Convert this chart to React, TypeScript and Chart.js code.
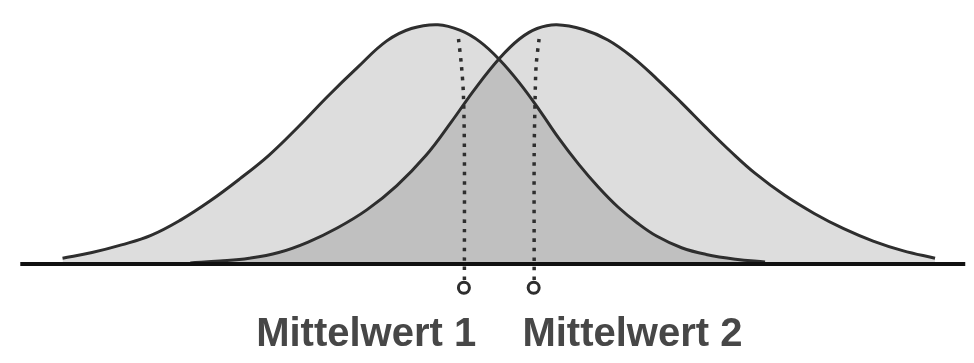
import React, { useEffect, useRef } from "react";
import { Chart, registerables } from "chart.js";

Chart.register(...registerables);

// Curve 1 (left distribution): x positions and heights above the baseline
const curve1X = [55, 85, 115, 145, 175, 205, 235, 265, 295, 325, 355, 385, 410, 437, 460, 480, 500, 520, 540, 560, 580, 600, 620, 640, 660, 685, 710, 740, 770];
const curve1Y = [6, 12, 20, 30, 46, 66, 89, 114, 144, 176, 206, 234, 247, 251, 245, 233, 214, 190, 162, 132, 105, 81, 60, 43, 29, 17, 10, 5, 2];

// Curve 2 (right distribution)
const curve2X = [185, 215, 245, 275, 305, 335, 365, 395, 425, 450, 475, 500, 520, 538, 558, 585, 610, 635, 660, 685, 710, 735, 760, 790, 820, 850, 880, 910, 943];
const curve2Y = [1, 3, 6, 12, 23, 38, 57, 82, 114, 148, 184, 216, 236, 247, 251, 246, 235, 217, 194, 169, 143, 118, 95, 72, 53, 37, 24, 14, 6];

// Mean markers: dotted guide lines (x, height) from top to below the baseline
const mean1LineX = [458, 461, 463, 464, 464, 464];
const mean1LineY = [236, 208, 178, 118, 0, -20];
const mean2LineX = [540, 537, 536, 535, 535, 535];
const mean2LineY = [236, 208, 175, 115, 0, -20];

// Marker circles below the axis
const markerX = [463.5, 534.5];
const markerY = [-25, -25];

// Axis line
const axisX = [12, 974];
const axisY = [0, 0];

// Labels
const labelTexts = ["Mittelwert 1", "Mittelwert 2"];
const labelX = [364, 635];
const labelY = -75;

const toPoints = (xs: number[], ys: number[]) => xs.map((x, i) => ({ x, y: ys[i] }));

const labelPlugin = {
  id: "meanLabels",
  afterDraw(chart: any) {
    const { ctx, scales } = chart;
    ctx.save();
    ctx.font = 'bold 40px "Liberation Sans", Arial, sans-serif';
    ctx.fillStyle = "#474747";
    ctx.textAlign = "center";
    ctx.textBaseline = "middle";
    labelTexts.forEach((t, i) => {
      ctx.fillText(t, scales.x.getPixelForValue(labelX[i]), scales.y.getPixelForValue(labelY));
    });
    ctx.restore();
  },
};

export default function App() {
  const canvasRef = useRef<HTMLCanvasElement | null>(null);

  useEffect(() => {
    if (!canvasRef.current) return;
    const curveStyle = {
      borderColor: "#2e2e2e",
      borderWidth: 3,
      pointRadius: 0,
      tension: 0.4,
      fill: "origin",
      backgroundColor: "rgba(0,0,0,0.135)",
    };
    const dotted = {
      borderColor: "#2e2e2e",
      borderWidth: 3.5,
      borderDash: [3.5, 6],
      pointRadius: 0,
      fill: false,
      tension: 0.3,
    };
    const chart = new Chart(canvasRef.current, {
      type: "line",
      data: {
        datasets: [
          { ...curveStyle, label: "Kurve 1", data: toPoints(curve1X, curve1Y), order: 5 },
          { ...curveStyle, label: "Kurve 2", data: toPoints(curve2X, curve2Y), order: 4 },
          { ...dotted, label: "MW1", data: toPoints(mean1LineX, mean1LineY), order: 3 },
          { ...dotted, label: "MW2", data: toPoints(mean2LineX, mean2LineY), order: 3 },
          {
            label: "Achse",
            data: toPoints(axisX, axisY),
            borderColor: "#111111",
            borderWidth: 4,
            pointRadius: 0,
            fill: false,
            order: 2,
          },
          {
            type: "scatter" as any,
            label: "Marker",
            data: toPoints(markerX, markerY),
            pointRadius: 5.5,
            pointBorderWidth: 3,
            pointBackgroundColor: "#ffffff",
            pointBorderColor: "#2e2e2e",
            showLine: false,
            order: 1,
          } as any,
        ],
      },
      options: {
        animation: false,
        responsive: false,
        devicePixelRatio: 1,
        layout: { padding: 0 },
        scales: {
          x: { type: "linear", min: 0, max: 974, display: false },
          y: { type: "linear", min: -95, max: 268, display: false },
        },
        plugins: {
          legend: { display: false },
          tooltip: { enabled: false },
          filler: { drawTime: "beforeDatasetsDraw" } as any,
        },
      },
      plugins: [labelPlugin],
    });
    return () => chart.destroy();
  }, []);

  return (
    <div style={{ position: "absolute", left: 0, top: 0, width: 974, height: 363, background: "#ffffff" }}>
      <canvas ref={canvasRef} width={974} height={363} style={{ display: "block" }} />
    </div>
  );
}
